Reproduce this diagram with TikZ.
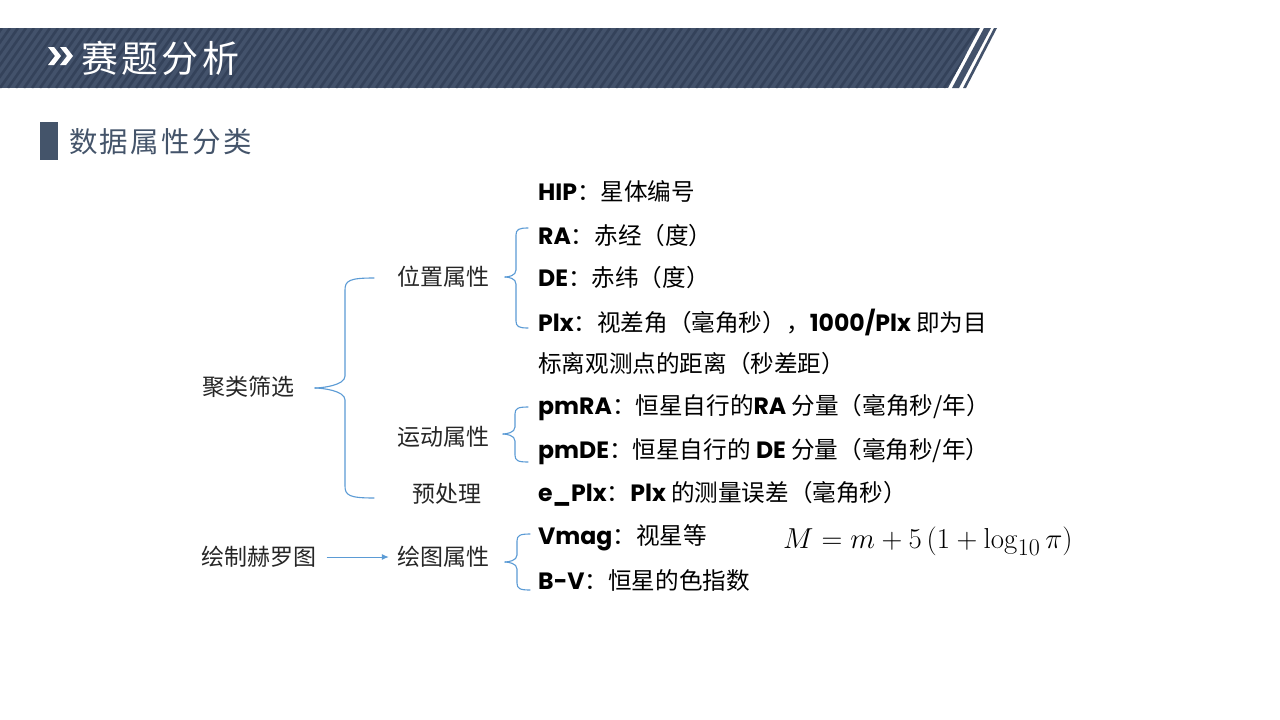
\documentclass[tikz,border=0pt]{standalone}
\usepackage[no-math]{fontspec}
\setmainfont{Noto Sans CJK SC}
\newfontfamily\latb{Poppins}
\usetikzlibrary{arrows.meta}

\definecolor{bandbase}{HTML}{43526B}
\definecolor{bandstripe}{HTML}{34425A}
\definecolor{slate}{HTML}{44546A}
\definecolor{braceblue}{HTML}{5B9BD5}

\newcommand{\lt}[1]{{\latb\bfseries #1}}
% curly brace: #1 tip x, #2 spine x, #3 arm-end x, #4 top y, #5 tip y, #6 bottom y, #7 curve size
\newcommand{\curlybrace}[7]{%
  \draw[bracestyle] (#3,#4) .. controls (#2+#7*0.4,#4) and (#2,#4+#7*0.2) .. (#2,#4+#7)
     -- (#2,#5-#7) .. controls (#2,#5-#7*0.2) and (#1+#7*0.5,#5) .. (#1,#5);
  \draw[bracestyle] (#3,#6) .. controls (#2+#7*0.4,#6) and (#2,#6-#7*0.2) .. (#2,#6-#7)
     -- (#2,#5+#7) .. controls (#2,#5+#7*0.2) and (#1+#7*0.5,#5) .. (#1,#5);}

\tikzset{
  bracestyle/.style={draw=braceblue, line width=1.1pt, line cap=round},
  grouplabel/.style={inner sep=0pt, text=black!85, font=\fontsize{23}{28}\selectfont},
  item/.style={anchor=west, inner sep=0pt, text=black, font=\fontsize{23.6}{28}\selectfont},
}

\begin{document}
\begin{tikzpicture}[x=1pt,y=-1pt]
\useasboundingbox (0,0) rectangle (1280,720);
\fill[white] (0,0) rectangle (1280,720);

% ---- header band with diagonal texture ----
\begin{scope}
  \clip (0,28) -- (980,28) -- (948,88) -- (0,88) -- cycle;
  \fill[bandbase] (0,28) rectangle (1000,88);
  \foreach \i in {-8,...,126}
    \draw[bandstripe, line width=2.6pt] (\i*8,88) -- (\i*8+42,28);
\end{scope}
\fill[bandbase] (984,28) -- (991,28) -- (959,88) -- (952,88) -- cycle;
\fill[bandbase] (994,28) -- (997,28) -- (966,88) -- (963,88) -- cycle;

% double chevron
\fill[white] (48,47) -- (54,47) -- (61,56) -- (54,65) -- (48,65) -- (55,56) -- cycle;
\fill[white] (60,47) -- (66,47) -- (73,56) -- (66,65) -- (60,65) -- (67,56) -- cycle;
\node[anchor=west, inner sep=0pt, text=white,
      font=\fontsize{37}{42}\selectfont\addfontfeature{LetterSpace=9}] (title) at (81,58) {赛题分析};

% ---- section heading ----
\fill[slate] (40,122) rectangle (58,160);
\node[anchor=west, inner sep=0pt, text=slate,
      font=\fontsize{28.5}{32}\selectfont\addfontfeature{LetterSpace=8}] (sub) at (69,142) {数据属性分类};

% ---- left tree ----
\node[grouplabel] (cluster) at (248,387) {聚类筛选};
\node[grouplabel] (pos) at (443,277) {位置属性};
\node[grouplabel] (motion) at (443,437) {运动属性};
\node[grouplabel] (pre) at (447,494) {预处理};
\node[grouplabel] (hr) at (259,557) {绘制赫罗图};
\node[grouplabel] (plot) at (443,557) {绘图属性};

\draw[braceblue, line width=1pt, -{Latex[length=7pt,width=6pt]}]
  (hr.east) ++(10,0) coordinate (arrs) -- ([xshift=-8pt]plot.west);

\curlybrace{315}{345}{374}{278}{388}{498}{12}
\curlybrace{505}{516}{528}{228}{277}{328}{7}
\curlybrace{503}{515}{528}{407}{434}{462}{7}
\curlybrace{505}{517}{530}{534}{562}{590}{7}

% ---- attribute list ----
\node[item] (hip)  at (538,191) {\lt{HIP}：星体编号};
\node[item] (ra)   at (538,236) {\lt{RA}：赤经（度）};
\node[item] (de)   at (538,278) {\lt{DE}：赤纬（度）};
\node[item] (plx)  at (538,322) {\lt{Plx}：视差角（毫角秒），\lt{1000/Plx} 即为目};
\node[item] (plx2) at (538,364) {标离观测点的距离（秒差距）};
\node[item] (pmra) at (538,408) {\lt{pmRA}：恒星自行的\lt{RA} 分量（毫角秒/年）};
\node[item] (pmde) at (538,452) {\lt{pmDE}：恒星自行的 \lt{DE} 分量（毫角秒/年）};
\node[item] (eplx) at (538,494) {\lt{e\_Plx}：\lt{Plx} 的测量误差（毫角秒）};
\node[item] (vmag) at (538,538) {\lt{Vmag}：视星等};
\node[item] (bv)   at (538,581) {\lt{B-V}：恒星的色指数};
\node[anchor=west, inner sep=0pt, scale=1.16, font=\fontsize{24.88}{30}\selectfont] (formula) at (783,541)
  {$M = m + 5\,(1 + \log_{10}\pi)$};
\end{tikzpicture}
\end{document}
